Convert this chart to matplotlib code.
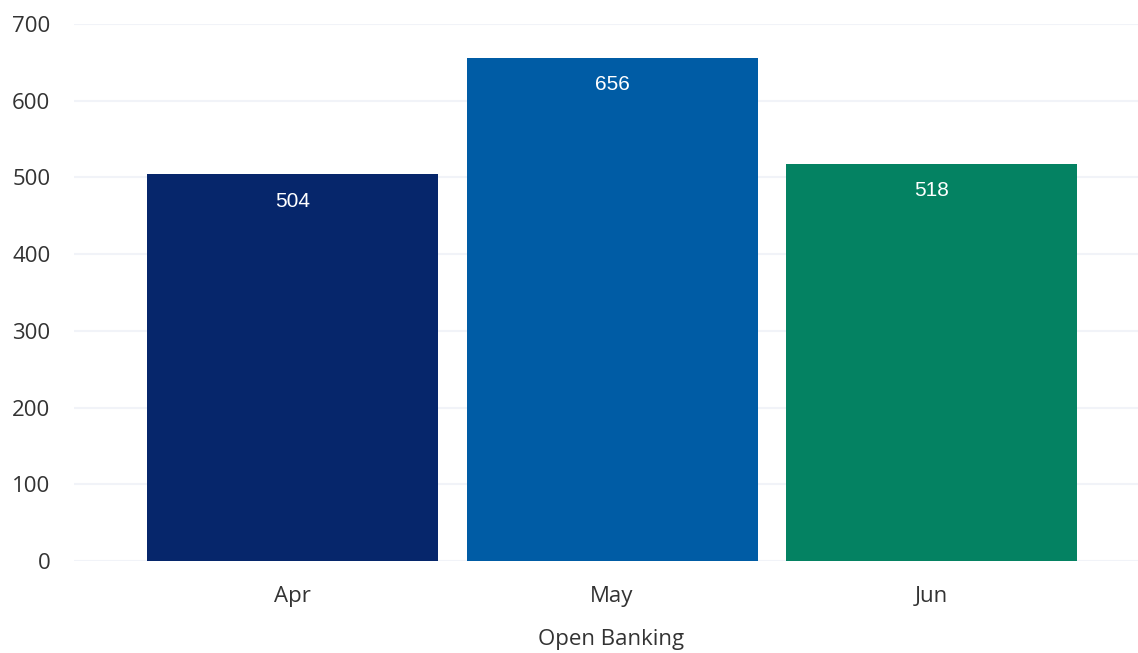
import matplotlib.pyplot as plt
import numpy as np

# data
months = ['Apr', 'May', 'Jun']
values = [504, 656, 518]
colors = ['#06266b', '#005ca5', '#048262']
y_ticks = [0, 100, 200, 300, 400, 500, 600, 700]


def main():
    fig = plt.figure(figsize=(11.38, 6.53), dpi=100)
    ax = fig.add_axes([0.065, 0.1409, 0.935, 0.8223])

    x = np.arange(len(months))
    bars = ax.bar(x, values, width=0.911, color=colors, zorder=3)

    # value labels just inside the top of each bar
    for bar, v in zip(bars, values):
        ax.annotate(str(v), (bar.get_x() + bar.get_width() / 2, v),
                    xytext=(0, -27), textcoords='offset pixels',
                    ha='center', va='center', color='white',
                    fontsize=15, family='Liberation Sans', zorder=4)

    ax.set_xlim(-0.684, 2.646)
    ax.set_ylim(0, 700)
    ax.set_yticks(y_ticks)
    ax.set_xticks(x)
    ax.set_xticklabels(months)

    ax.grid(axis='y', color='#f1f3f8', linewidth=1.5, zorder=0)
    for side in ax.spines.values():
        side.set_visible(False)
    ax.tick_params(axis='both', length=0, labelsize=16, labelcolor='#333333')
    for lbl in ax.get_xticklabels() + ax.get_yticklabels():
        lbl.set_family('Open Sans')
    ax.tick_params(axis='y', pad=17)
    ax.tick_params(axis='x', pad=18)
    # label sits under the middle bar rather than the axes centre
    ax.set_xlabel('Open Banking', fontsize=16, color='#333333',
                  family='Open Sans', labelpad=16, x=0.5047)

    fig.savefig('out.png', dpi=100)


if __name__ == '__main__':
    main()
